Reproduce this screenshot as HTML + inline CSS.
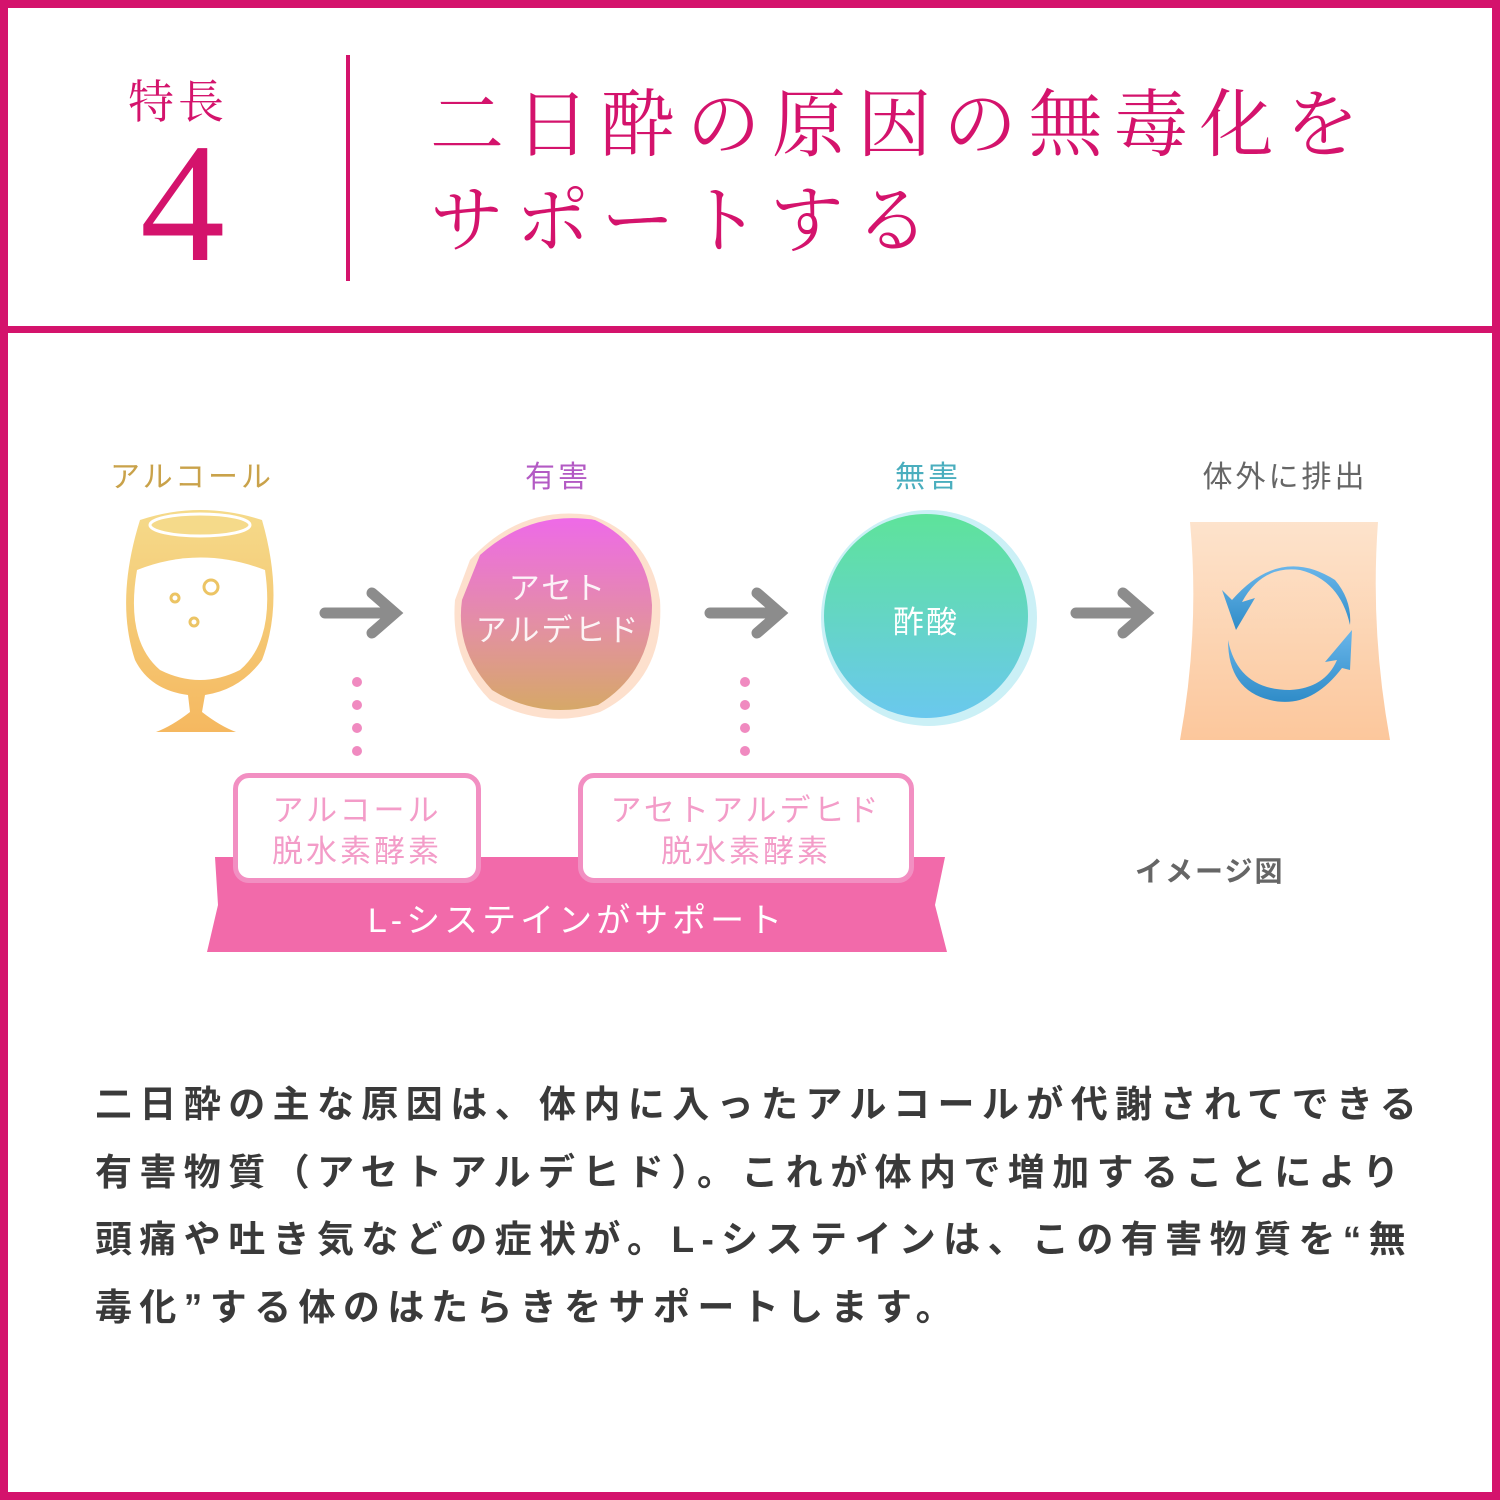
<!DOCTYPE html>
<html><head><meta charset="utf-8"><style>
body{margin:0;width:1500px;height:1500px;position:relative;background:#fff;overflow:hidden;font-family:"Liberation Sans","Noto Sans CJK JP",sans-serif}
.a{position:absolute;white-space:nowrap}
.frame{position:absolute;left:0;top:0;width:1500px;height:1500px;box-sizing:border-box;border:8px solid #d4136c}
.serif{font-family:"Liberation Serif","Noto Serif CJK SC",serif}
.p{left:95px;font-size:37px;font-weight:bold;color:#3a3a3a;letter-spacing:7.4px}
.lbl{font-size:30px;text-align:center;width:300px}
.box{position:absolute;border:5px solid #f28fc2;border-radius:16px;background:#fff;box-sizing:border-box;color:#f39cc8;font-size:31px;text-align:center;line-height:41px;padding-top:12px;letter-spacing:3px}
.dot{position:absolute;width:10px;height:10px;border-radius:50%;background:#f08ac0}
</style></head><body>
<div class="frame"></div>
<div class="a" style="left:0;top:326px;width:1500px;height:7px;background:#d4136c"></div>
<div class="a serif" style="left:128px;top:66px;font-size:46px;color:#d4136c;letter-spacing:4px">特長</div>
<div class="a" style="left:140px;top:118px;font-size:170px;line-height:170px;color:#d4136c;font-family:'Liberation Serif',serif;font-weight:normal">4</div>
<div class="a" style="left:346px;top:55px;width:4px;height:226px;background:#d4136c"></div>
<div class="a serif" style="left:430px;top:78px;font-size:74px;line-height:96px;color:#d4136c;letter-spacing:11.5px">二日酔の原因の無毒化を<br>サポートする</div>

<div class="a lbl" style="left:42px;top:452px;color:#c9a24a;letter-spacing:3px">アルコール</div>
<div class="a lbl" style="left:408px;top:452px;color:#b35ac4;letter-spacing:3px">有害</div>
<div class="a lbl" style="left:778px;top:452px;color:#4aaebe;letter-spacing:3px">無害</div>
<div class="a lbl" style="left:1135px;top:452px;color:#666;letter-spacing:3px">体外に排出</div>

<svg class="a" style="left:0;top:0" width="1500" height="1000">
<defs>
<linearGradient id="g1" x1="0" y1="0" x2="0" y2="1"><stop offset="0" stop-color="#f5da8a"/><stop offset="1" stop-color="#f5b860"/></linearGradient>
<linearGradient id="g2" x1="0" y1="0" x2="0" y2="1"><stop offset="0" stop-color="#ee6ae8"/><stop offset="0.6" stop-color="#e2929e"/><stop offset="1" stop-color="#d6a868"/></linearGradient>
<linearGradient id="g3" x1="0" y1="0" x2="0" y2="1"><stop offset="0" stop-color="#5ee39a"/><stop offset="1" stop-color="#6ac8ee"/></linearGradient>
<linearGradient id="g4" x1="0" y1="0" x2="0" y2="1"><stop offset="0" stop-color="#fde3cc"/><stop offset="1" stop-color="#fcc79c"/></linearGradient>
<linearGradient id="g5" x1="0" y1="0" x2="0" y2="1"><stop offset="0" stop-color="#6ab6ea"/><stop offset="1" stop-color="#2f8cc8"/></linearGradient>
</defs>
<path d="M140 520 Q200 500 262 520 Q285 600 262 660 Q240 690 205 695 L202 712 Q220 726 236 732 L156 732 Q172 726 190 712 L188 695 Q150 690 135 660 Q115 600 140 520Z" fill="url(#g1)"/>
<ellipse cx="200" cy="525" rx="50" ry="11" fill="#f5da8a" stroke="#fff" stroke-width="3"/>
<path d="M137 570 Q200 545 265 570 Q275 640 240 670 Q200 690 160 670 Q125 640 137 570Z" fill="#fff"/>
<circle cx="175" cy="598" r="4" fill="none" stroke="#ecc464" stroke-width="3"/>
<circle cx="211" cy="587" r="7" fill="none" stroke="#ecc464" stroke-width="3"/>
<circle cx="194" cy="622" r="4" fill="none" stroke="#ecc464" stroke-width="3"/>
<g stroke="#8c8c8c" stroke-width="11" stroke-linecap="round" fill="none">
<path d="M325 613 L392 613 M372 593 L395 613 L372 633"/>
<path d="M710 613 L777 613 M757 593 L780 613 L757 633"/>
<path d="M1076 613 L1143 613 M1123 593 L1146 613 L1123 633"/>
</g>
<path d="M470 560 Q520 505 590 515 Q650 535 660 600 Q665 680 600 712 Q545 730 490 700 Q450 660 455 600Z" fill="#fcd3b8" opacity="0.7"/>
<path d="M480 555 Q530 510 595 520 Q648 545 652 605 Q652 672 598 705 Q540 720 492 690 Q455 650 462 600Z" fill="url(#g2)"/>
<circle cx="929" cy="618" r="108" fill="#a8e6f0" opacity="0.6"/>
<circle cx="926" cy="616" r="102" fill="url(#g3)"/>
<path d="M1190 522 L1378 522 Q1370 630 1390 740 L1180 740 Q1200 630 1190 522Z" fill="url(#g4)"/>
<path d="M1232 600 Q1280 545 1335 580 Q1352 600 1350 625 Q1340 580 1300 570 Q1262 565 1242 602 L1255 598 L1236 630 L1222 590Z" fill="url(#g5)"/>
<path d="M1228 640 Q1238 690 1290 690 Q1325 688 1337 660 L1325 662 L1352 630 L1350 670 L1342 668 Q1310 710 1270 700 Q1228 690 1228 640Z" fill="url(#g5)"/>
<path d="M215 857 L945 857 L935 905 L947 952 L207 952 L218 905Z" fill="#f26aaa"/>
</svg>
<div class="a" style="left:458px;top:568px;width:200px;text-align:center;font-size:31px;line-height:42px;color:#fff;letter-spacing:2px;opacity:.9">アセト<br>アルデヒド</div>
<div class="a" style="left:826px;top:597px;width:200px;text-align:center;font-size:31px;color:#fff;letter-spacing:2px">酢酸</div>

<div class="dot" style="left:352px;top:677px"></div><div class="dot" style="left:352px;top:700px"></div><div class="dot" style="left:352px;top:723px"></div><div class="dot" style="left:352px;top:746px"></div>
<div class="dot" style="left:740px;top:677px"></div><div class="dot" style="left:740px;top:700px"></div><div class="dot" style="left:740px;top:723px"></div><div class="dot" style="left:740px;top:746px"></div>

<div class="box" style="left:233px;top:773px;width:248px;height:110px">アルコール<br>脱水素酵素</div>
<div class="box" style="left:578px;top:773px;width:336px;height:110px">アセトアルデヒド<br>脱水素酵素</div>
<div class="a" style="left:207px;top:893px;width:740px;text-align:center;font-size:34px;color:#fff;letter-spacing:4px">L-システインがサポート</div>
<div class="a" style="left:1135px;top:850px;font-size:28px;font-weight:bold;color:#666;letter-spacing:2px">イメージ図</div>

<div class="a p" style="top:1074px">二日酔の主な原因は、体内に入ったアルコールが代謝されてできる</div>
<div class="a p" style="top:1142px">有害物質（アセトアルデヒド）。これが体内で増加することにより</div>
<div class="a p" style="top:1209px">頭痛や吐き気などの症状が。L-システインは、この有害物質を“無</div>
<div class="a p" style="top:1277px">毒化”する体のはたらきをサポートします。</div>
</body></html>
